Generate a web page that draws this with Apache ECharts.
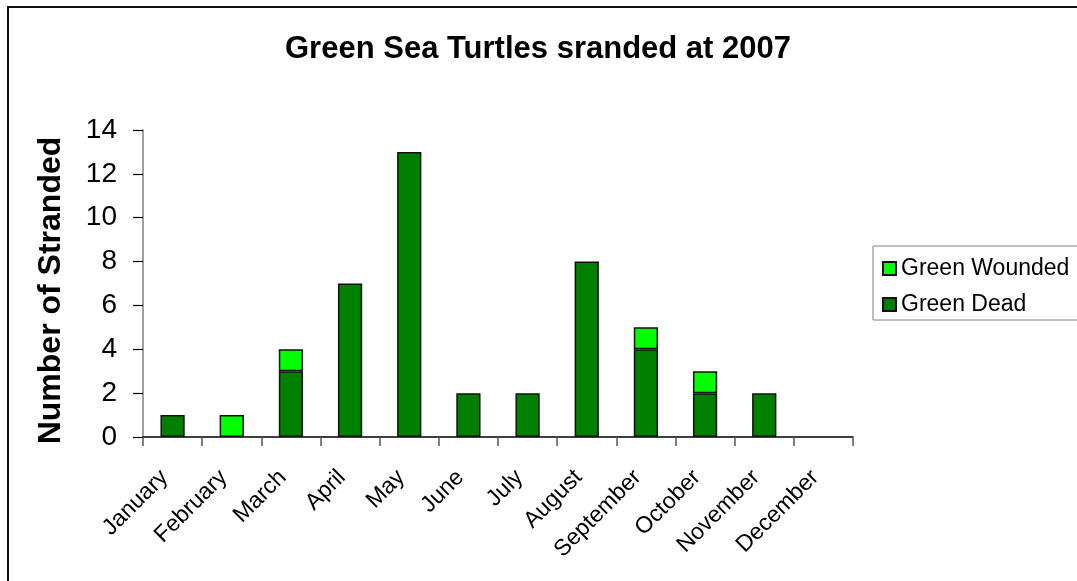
<!DOCTYPE html>
<html>
<head>
<meta charset="utf-8">
<script src="https://cdn.jsdelivr.net/npm/echarts@6/dist/echarts.min.js"></script>
<style>
  html, body { margin: 0; padding: 0; background: #fff; }
  #chart { width: 1077px; height: 581px; }
</style>
</head>
<body>
<div id="chart"></div>
<script>
// Green sea turtle strandings per month, 2007
const months = ['January', 'February', 'March', 'April', 'May', 'June',
  'July', 'August', 'September', 'October', 'November', 'December'];
const greenDead = [1, 0, 3, 7, 13, 2, 2, 8, 4, 2, 2, 0];
const greenWounded = [0, 1, 1, 0, 0, 0, 0, 0, 1, 1, 0, 0];
const yTicks = [0, 2, 4, 6, 8, 10, 12, 14];

// Empty months get no bar at all rather than a flat outline
const asBars = arr => arr.map(v => (v === 0 ? '-' : v));

const font = 'Arial, "Liberation Sans", sans-serif';
const chart = echarts.init(document.getElementById('chart'), null, { renderer: 'canvas' });

chart.setOption({
  backgroundColor: '#ffffff',
  animation: false,
  graphic: [{
    type: 'rect',
    shape: { x: 8, y: 7, width: 1200, height: 700 },
    style: { fill: 'none', stroke: '#111', lineWidth: 2 },
    silent: true,
    z: -1
  }],
  title: {
    text: 'Green Sea Turtles sranded at 2007',
    left: 533,
    textAlign: 'center',
    top: 29,
    textStyle: { fontFamily: font, fontSize: 31, fontWeight: 'bold', color: '#000' }
  },
  legend: {
    orient: 'vertical',
    left: 873,
    top: 246,
    data: ['Green Wounded', 'Green Dead'],
    itemWidth: 13,
    itemHeight: 13,
    itemGap: 13,
    itemTextGap: 10,
    padding: [11, 12, 4, 9],
    borderColor: '#808080',
    borderWidth: 1,
    icon: 'rect',
    textStyle: { fontFamily: font, fontSize: 23, color: '#000' }
  },
  grid: { left: 143, right: 224, top: 130, bottom: 144, containLabel: false },
  xAxis: {
    type: 'category',
    data: months,
    boundaryGap: true,
    axisLine: { lineStyle: { color: '#000', width: 1.5 } },
    axisTick: { show: true, length: 9, lineStyle: { color: '#555', width: 1.5 } },
    axisLabel: {
      rotate: 45,
      interval: 0,
      margin: 45,
      verticalAlign: 'bottom',
      fontFamily: font,
      fontSize: 23,
      color: '#000'
    }
  },
  yAxis: {
    type: 'value',
    min: yTicks[0],
    max: yTicks[yTicks.length - 1],
    interval: 2,
    name: 'Number of Stranded',
    nameLocation: 'middle',
    nameGap: 76,
    nameTextStyle: {
      fontFamily: font, fontSize: 32, fontWeight: 'bold', color: '#000',
      padding: [0, 14, 0, 0]
    },
    axisLine: { show: true, lineStyle: { color: '#808080', width: 1.5 } },
    axisTick: { show: true, length: 10, lineStyle: { color: '#000', width: 1.2 } },
    splitLine: { show: false },
    axisLabel: {
      margin: 26,
      fontFamily: font,
      fontSize: 28,
      color: '#000'
    }
  },
  series: [
    {
      name: 'Green Dead',
      type: 'bar',
      stack: 'total',
      barWidth: '41%',
      data: asBars(greenDead),
      itemStyle: { color: '#008000', borderColor: '#111', borderWidth: 1.5 }
    },
    {
      name: 'Green Wounded',
      type: 'bar',
      stack: 'total',
      barWidth: '41%',
      data: asBars(greenWounded),
      itemStyle: { color: '#00ff00', borderColor: '#111', borderWidth: 1.5 }
    }
  ]
});
</script>
</body>
</html>
